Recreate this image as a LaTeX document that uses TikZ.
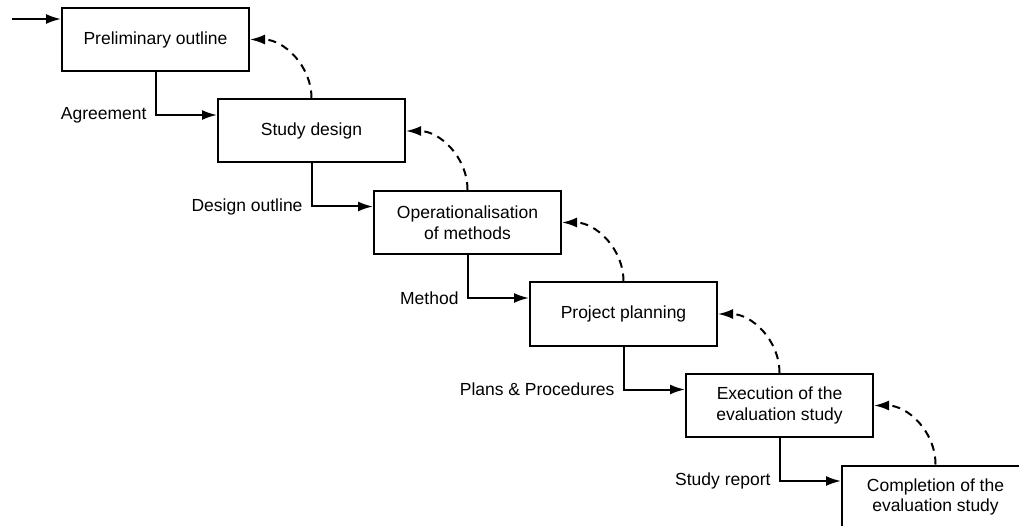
\documentclass[tikz,border=0pt]{standalone}
\usepackage{fontspec}
\setmainfont{Liberation Sans}
\usetikzlibrary{arrows.meta}
\usetikzlibrary{positioning}

\begin{document}
\begin{tikzpicture}[x=1pt,y=1pt,node distance=91.5pt and 156pt,on grid,
                >={Latex[length=15pt,width=10pt]},line width=2pt,
                box/.style={draw,minimum width=187pt,minimum height=63pt,align=center,
                        font=\fontsize{17.5}{20.5}\selectfont},
                tag/.style={left=6pt,inner sep=2pt,font=\fontsize{17.5}{20.5}\selectfont},
                back/.style={->,dash pattern=on 8pt off 6pt}]
                \useasboundingbox (0,0) rectangle (1019,-526);
                \node[box] (s_1) at (155.5,-39.5) {Preliminary outline};
                \node[box] [below right=of s_1] (s_2) {Study design};
                \node[box] [below right=of s_2] (s_3) {Operationalisation\\of methods};
                \node[box] [below right=of s_3] (s_4) {Project planning};
                \node[box] [below right=of s_4] (s_5) {Execution of the\\evaluation study};
                \node[box] [below right=of s_5] (s_6) {Completion of the\\evaluation study};
                \coordinate (in) at (12,-19);
                \draw[->] (in) -- ([yshift=20.5pt]s_1.west);
                \draw[->] (s_1) |- node[tag] {Agreement} ([yshift=16pt]s_2.west);
                \draw[->] (s_2) |- node[tag] {Design outline} ([yshift=16pt]s_3.west);
                \draw[->] (s_3) |- node[tag] {Method} ([yshift=16pt]s_4.west);
                \draw[->] (s_4) |- node[tag] {Plans \& Procedures} ([yshift=16pt]s_5.west);
                \draw[->] (s_5) |- node[tag] {Study report} ([yshift=16pt]s_6.west);
                \path
                (s_2) edge [back,out=90,in=0] (s_1)
                (s_3) edge [back,out=90,in=0] (s_2)
                (s_4) edge [back,out=90,in=0] (s_3)
                (s_5) edge [back,out=90,in=0] (s_4)
                (s_6) edge [back,out=90,in=0] (s_5);
            \end{tikzpicture}
\end{document}
